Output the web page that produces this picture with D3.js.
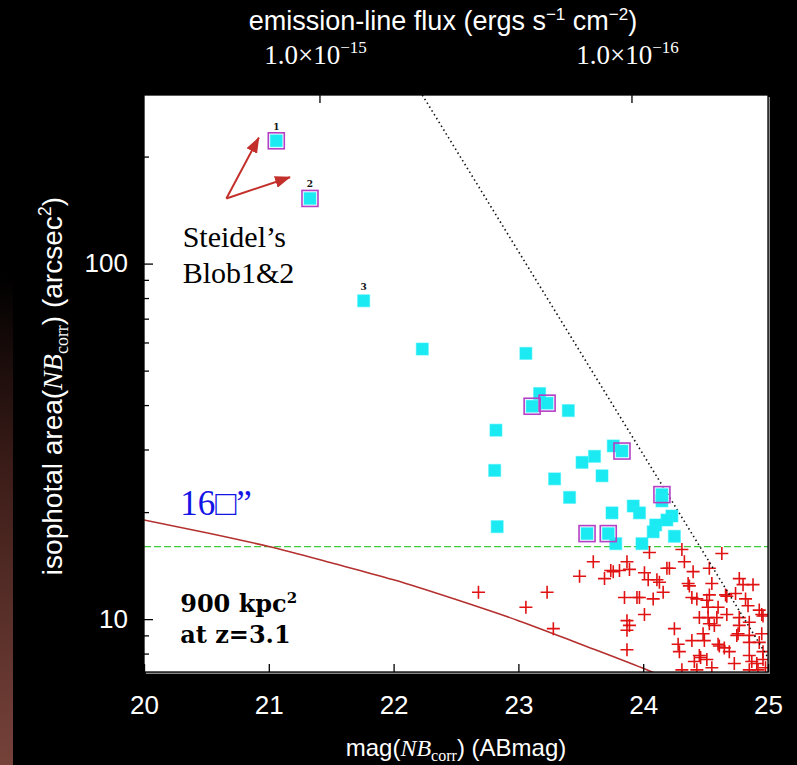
<!DOCTYPE html>
<html>
<head>
<meta charset="utf-8">
<script src="https://cdn.jsdelivr.net/npm/d3@7"></script>
<style>
  html, body { margin: 0; padding: 0; background: #000; }
  svg { display: block; }
</style>
</head>
<body>
<div id="chart"></div>
<script>
// cyan squares: large LAEs (magnitude, isophotal area in arcsec^2)
var blobMag   = [21.06, 21.33, 21.76, 22.23, 23.06, 23.17, 23.11, 23.23, 23.40, 22.82,
                 22.81, 23.76, 23.83, 23.61, 23.51, 23.67, 23.29, 23.41, 24.15, 24.15,
                 23.92, 23.97, 23.75, 24.23, 24.19, 24.10, 24.08, 24.25, 22.83, 23.55,
                 23.72, 23.78, 23.99];
var blobArea  = [221.5, 152.5, 78.6, 57.5, 55.9, 43.1, 39.7, 40.5, 38.6, 34.0,
                 26.2, 30.7, 29.7, 28.7, 27.6, 25.3, 24.8, 22.0, 22.4, 21.5,
                 20.8, 19.9, 19.9, 19.5, 19.0, 18.4, 17.6, 17.1, 18.2, 17.4,
                 17.4, 16.3, 16.3];
var blobBoxed = [1, 1, 0, 0, 0, 0, 1, 1, 0, 0,
                 0, 0, 1, 0, 0, 0, 0, 0, 0, 1,
                 0, 0, 0, 0, 0, 0, 0, 0, 0, 1,
                 1, 0, 0];
var blobLabel = ["1", "2", "3"];

// red crosses: emitters below the 16 arcsec^2 cut
var crossMag  = [22.68, 23.23, 23.06, 23.28, 23.49, 23.60, 23.87, 23.89, 23.69, 23.74,
                 23.76, 23.81, 24.01, 24.19, 24.04, 24.11, 24.13, 24.16, 23.85, 23.95,
                 23.97, 24.08, 24.01, 23.87, 23.89, 23.87, 23.87, 24.05, 24.31, 24.63,
                 24.33, 24.21, 24.53, 24.40, 24.36, 24.37, 24.55, 24.77, 24.80, 24.88,
                 24.66, 24.67, 24.74, 24.82, 24.84, 24.39, 24.43, 24.51, 24.53, 24.52,
                 24.60, 24.93, 24.95, 24.96, 24.45, 24.52, 24.59, 24.67, 24.77, 24.53,
                 24.57, 24.77, 24.85, 24.25, 24.48, 24.76, 24.75, 24.85, 24.95, 24.39,
                 24.49, 24.28, 24.29, 24.60, 24.61, 24.65, 24.69, 24.85, 24.93, 24.45,
                 24.46, 24.41, 24.51, 24.73, 24.85, 24.96, 24.87, 24.91, 24.96, 24.31,
                 24.43, 24.55, 24.85, 24.92, 24.98];
var crossArea = [11.9, 11.9, 10.8, 9.4, 13.2, 14.5, 14.5, 13.8, 13.0, 13.7,
                 13.6, 13.7, 13.5, 13.9, 12.9, 12.9, 12.7, 11.9, 11.5, 11.5,
                 11.5, 11.4, 10.3, 9.9, 9.6, 9.3, 8.2, 15.4, 15.7, 15.3,
                 14.5, 13.9, 13.9, 13.6, 12.6, 12.4, 12.6, 13.0, 12.5, 12.5,
                 11.7, 11.6, 11.8, 11.4, 10.9, 11.5, 11.4, 11.3, 11.7, 10.8,
                 10.8, 10.6, 10.3, 10.2, 10.1, 10.1, 10.1, 10.3, 10.1, 9.7,
                 9.6, 9.6, 9.8, 9.4, 9.1, 9.1, 9.0, 9.0, 9.1, 8.7,
                 8.7, 8.5, 8.1, 8.5, 8.4, 8.3, 8.1, 8.6, 8.6, 7.9,
                 7.8, 7.6, 7.7, 7.5, 7.9, 8.1, 7.6, 7.5, 7.7, 7.2,
                 7.2, 7.3, 7.2, 7.2, 7.3];

// 900 kpc^2 at z=3.1 curve
var curveMag  = [20, 20.5, 21, 21.5, 22, 22.5, 23, 23.5, 24, 24.2];
var curveArea = [19.0, 17.5, 16.0, 14.4, 12.9, 11.35, 9.9, 8.5, 7.27, 6.8];

// detection limit (dotted) and area cut (dashed)
var limitMag  = [22.23, 25.0];
var limitArea = [298, 7.8];
var areaCut = 16;

// axes
var magTicks = [20, 21, 22, 23, 24, 25];
var areaMajor = [10, 100];
var areaMinor = [8, 9, 20, 30, 40, 50, 60, 70, 80, 90, 200];
var fluxTicks = [1e-15, 1e-16];
var fluxTickLabels = ["\u221215", "\u221216"];
var fluxZero = -16.094;   // mag = -2.5 log10(flux) + fluxZero

var W = 797, H = 765;
var margin = { top: 95, right: 29, bottom: 93, left: 144 };
var width = W - margin.left - margin.right;
var height = H - margin.top - margin.bottom;

var svg = d3.select("#chart").append("svg")
    .attr("width", W)
    .attr("height", H);

var defs = svg.append("defs");
var grad = defs.append("linearGradient").attr("id", "edge")
    .attr("x1", 0).attr("y1", 0).attr("x2", 0).attr("y2", 1);
grad.append("stop").attr("offset", "0%").attr("stop-color", "#000");
grad.append("stop").attr("offset", "36%").attr("stop-color", "#000");
grad.append("stop").attr("offset", "62%").attr("stop-color", "#3d1d19");
grad.append("stop").attr("offset", "100%").attr("stop-color", "#76423a");

defs.append("clipPath").attr("id", "plotclip")
  .append("rect").attr("width", width).attr("height", height);

defs.append("marker")
    .attr("id", "arrowhead")
    .attr("viewBox", "0 0 16 12")
    .attr("refX", 15).attr("refY", 6)
    .attr("markerWidth", 16).attr("markerHeight", 12)
    .attr("markerUnits", "userSpaceOnUse")
    .attr("orient", "auto")
  .append("path")
    .attr("d", "M0,0L16,6L0,12Z")
    .attr("fill", "#c3302c");

svg.append("rect").attr("width", W).attr("height", H).attr("fill", "#000");
svg.append("rect").attr("width", 13).attr("height", H).attr("fill", "url(#edge)");

var x = d3.scaleLinear().domain([20, 25]).range([0, width]);
var y = d3.scaleLog().domain([7.1, 298]).range([height, 0]);
var flux = d3.scaleLog()
    .domain([Math.pow(10, (fluxZero - 20) / 2.5), Math.pow(10, (fluxZero - 25) / 2.5)])
    .range([0, width]);

var g = svg.append("g")
    .attr("transform", "translate(" + margin.left + "," + margin.top + ")");

// plot background with a faint shadow
g.append("rect").attr("x", 2).attr("y", 2).attr("width", width).attr("height", height)
    .attr("fill", "#8a8a8a");
g.append("rect").attr("width", width).attr("height", height).attr("fill", "#fff");

var plot = g.append("g").attr("clip-path", "url(#plotclip)");

// area cut
plot.append("line")
    .attr("x1", 0).attr("x2", width)
    .attr("y1", y(areaCut)).attr("y2", y(areaCut))
    .attr("stroke", "#3ccc3c")
    .attr("stroke-width", 1.3)
    .attr("stroke-dasharray", "7,3");

// 900 kpc^2 curve
var line = d3.line()
    .x(function(d, i) { return x(curveMag[i]); })
    .y(function(d, i) { return y(curveArea[i]); })
    .curve(d3.curveMonotoneX);
plot.append("path")
    .attr("d", line(curveMag))
    .attr("fill", "none")
    .attr("stroke", "#b3302f")
    .attr("stroke-width", 1.6);

// red crosses
plot.selectAll(".cross")
    .data(crossMag)
    .enter().append("path")
    .attr("class", "cross")
    .attr("transform", function(d, i) { return "translate(" + x(d) + "," + y(crossArea[i]) + ")"; })
    .attr("d", "M-6.5,0H6.5M0,-6.5V6.5")
    .attr("stroke", "#e01212")
    .attr("stroke-width", 1.6);

// detection limit
plot.append("line")
    .attr("x1", x(limitMag[0])).attr("y1", y(limitArea[0]))
    .attr("x2", x(limitMag[1])).attr("y2", y(limitArea[1]))
    .attr("stroke", "#111")
    .attr("stroke-width", 1.6)
    .attr("stroke-dasharray", "1.5,3");

// cyan squares
plot.selectAll(".blob")
    .data(blobMag)
    .enter().append("rect")
    .attr("class", "blob")
    .attr("x", function(d) { return x(d) - 6; })
    .attr("y", function(d, i) { return y(blobArea[i]) - 6; })
    .attr("width", 12).attr("height", 12)
    .attr("fill", "#1ceaf2")
    .attr("stroke", "rgba(40,240,250,0.45)")
    .attr("stroke-width", 1.2);

// magenta boxes
plot.selectAll(".box")
    .data(blobMag.filter(function(d, i) { return blobBoxed[i]; }))
    .enter().append("rect")
    .attr("class", "box")
    .attr("x", function(d) { return x(d) - 8; })
    .attr("y", function(d) {
        var i = blobMag.indexOf(d);
        return y(blobArea[i]) - 8;
    })
    .attr("width", 16).attr("height", 16)
    .attr("fill", "none")
    .attr("stroke", "#b53fc6")
    .attr("stroke-width", 1.6);

plot.selectAll(".blobnum")
    .data(blobLabel)
    .enter().append("text")
    .attr("x", function(d, i) { return x(blobMag[i]); })
    .attr("y", function(d, i) { return y(blobArea[i]) - 11; })
    .attr("text-anchor", "middle")
    .style("font-family", "DejaVu Serif")
    .style("font-weight", "bold")
    .style("font-size", "9px")
    .attr("fill", "#111")
    .text(function(d) { return d; });

// arrows to Steidel's blobs
var arrowTail = [20.66, 152.5];
var arrowTips = [[20.92, 226], [21.17, 175]];
plot.selectAll(".arrow")
    .data(arrowTips)
    .enter().append("line")
    .attr("x1", x(arrowTail[0])).attr("y1", y(arrowTail[1]))
    .attr("x2", function(d) { return x(d[0]); })
    .attr("y2", function(d) { return y(d[1]); })
    .attr("stroke", "#c3302c")
    .attr("stroke-width", 2)
    .attr("marker-end", "url(#arrowhead)");

// annotations
g.append("text")
    .attr("x", x(20.31)).attr("y", y(111))
    .style("font-family", "Liberation Serif")
    .style("font-size", "30px")
    .attr("fill", "#000")
    .text("Steidel\u2019s");
g.append("text")
    .attr("x", x(20.31)).attr("y", y(88))
    .style("font-family", "Liberation Serif")
    .style("font-size", "30px")
    .attr("fill", "#000")
    .text("Blob1&2");
g.append("text")
    .attr("x", x(20.29)).attr("y", y(19.6))
    .style("font-family", "Liberation Serif")
    .style("font-size", "35px")
    .attr("fill", "#1414e6")
    .text("16\u25a1\u201d");
g.append("text")
    .attr("x", x(20.29)).attr("y", y(10.46))
    .style("font-family", "DejaVu Serif")
    .style("font-weight", "bold")
    .style("font-size", "24px")
    .attr("fill", "#000")
    .text("900 kpc")
  .append("tspan")
    .attr("dy", -9)
    .style("font-size", "15px")
    .text("2");
g.append("text")
    .attr("x", x(20.29)).attr("y", y(8.58))
    .style("font-family", "DejaVu Serif")
    .style("font-weight", "bold")
    .style("font-size", "24px")
    .attr("fill", "#000")
    .text("at z=3.1");

// frame
g.append("rect").attr("width", width).attr("height", height)
    .attr("fill", "none").attr("stroke", "#000").attr("stroke-width", 1.3);

// bottom ticks (inward)
var xAxis = g.append("g")
    .attr("transform", "translate(0," + height + ")")
    .call(d3.axisBottom(x).tickValues(magTicks).tickSize(-8).tickPadding(24).tickFormat(d3.format("d")));
xAxis.select(".domain").remove();
xAxis.selectAll("line").attr("stroke", "#000").attr("stroke-width", 1.3);
xAxis.selectAll("text")
    .attr("fill", "#fff")
    .style("font-family", "Liberation Sans")
    .style("font-size", "26px");

// left ticks
var yMinor = g.append("g")
    .call(d3.axisLeft(y).tickValues(areaMinor).tickSize(-5).tickFormat(""));
yMinor.select(".domain").remove();
yMinor.selectAll("line").attr("stroke", "#000").attr("stroke-width", 1.3);

var yAxis = g.append("g")
    .call(d3.axisLeft(y).tickValues(areaMajor).tickSize(-9).tickPadding(16).tickFormat(d3.format("d")));
yAxis.select(".domain").remove();
yAxis.selectAll("line").attr("stroke", "#000").attr("stroke-width", 1.3);
yAxis.selectAll("text")
    .attr("fill", "#fff")
    .style("font-family", "Liberation Sans")
    .style("font-size", "26px");

// top flux ticks
var topAxis = g.append("g")
    .call(d3.axisTop(flux).tickValues(fluxTicks).tickSize(-8).tickFormat(""));
topAxis.select(".domain").remove();
topAxis.selectAll("line").attr("stroke", "#000").attr("stroke-width", 1.3);

var fluxLab = g.selectAll(".fluxlab")
    .data(fluxTicks)
    .enter().append("text")
    .attr("class", "fluxlab")
    .attr("x", function(d) { return flux(d) - 4; })
    .attr("y", -31)
    .attr("text-anchor", "middle")
    .attr("fill", "#fff")
    .style("font-family", "Liberation Serif")
    .style("font-size", "27px");
fluxLab.append("tspan").text("1.0\u00d710");
fluxLab.append("tspan")
    .attr("dy", -11)
    .style("font-size", "17px")
    .text(function(d, i) { return fluxTickLabels[i]; });

// axis titles
var topTitle = svg.append("text")
    .attr("x", 443).attr("y", 30)
    .attr("text-anchor", "middle")
    .attr("fill", "#fff")
    .style("font-family", "Liberation Sans")
    .style("font-size", "27px");
topTitle.append("tspan").text("emission-line flux (ergs s");
topTitle.append("tspan").attr("dy", -10).style("font-size", "17px").text("\u22121");
topTitle.append("tspan").attr("dy", 10).text(" cm");
topTitle.append("tspan").attr("dy", -10).style("font-size", "17px").text("\u22122");
topTitle.append("tspan").attr("dy", 10).text(")");

var xTitle = svg.append("text")
    .attr("x", 456).attr("y", 756)
    .attr("text-anchor", "middle")
    .attr("fill", "#fff")
    .style("font-family", "Liberation Sans")
    .style("font-size", "24px");
xTitle.append("tspan").text("mag(");
xTitle.append("tspan").style("font-family", "Liberation Serif").style("font-style", "italic").text("NB");
xTitle.append("tspan").attr("dy", 5).style("font-family", "Liberation Serif").style("font-size", "16px").text("corr");
xTitle.append("tspan").attr("dy", -5).text(") (ABmag)");

var yTitle = svg.append("text")
    .attr("transform", "translate(62,386) rotate(-90)")
    .attr("text-anchor", "middle")
    .attr("fill", "#fff")
    .style("font-family", "Liberation Sans")
    .style("font-size", "28px");
yTitle.append("tspan").text("isophotal area(");
yTitle.append("tspan").style("font-family", "Liberation Serif").style("font-style", "italic").text("NB");
yTitle.append("tspan").attr("dy", 6).style("font-family", "Liberation Serif").style("font-size", "18px").text("corr");
yTitle.append("tspan").attr("dy", -6).text(") (arcsec");
yTitle.append("tspan").attr("dy", -11).style("font-size", "18px").text("2");
yTitle.append("tspan").attr("dy", 11).text(")");
</script>
</body>
</html>
